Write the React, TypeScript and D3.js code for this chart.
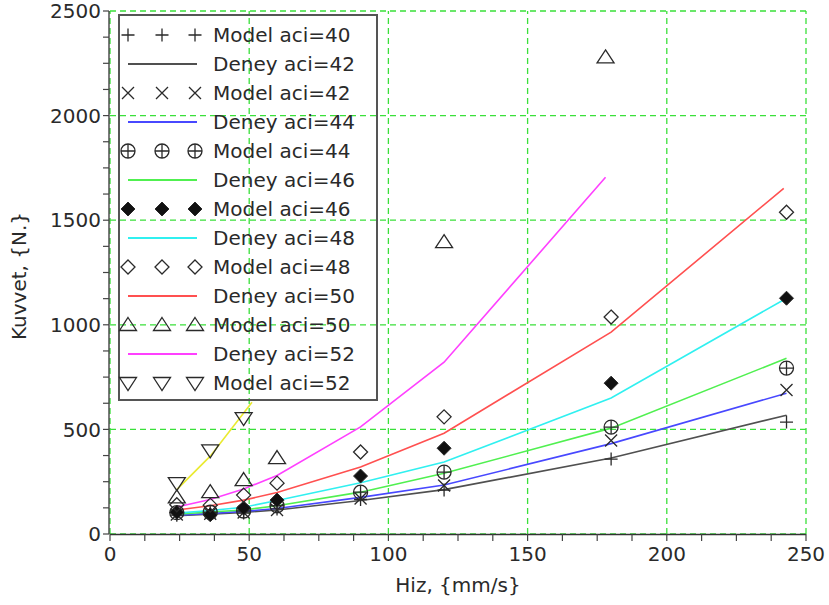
import React from "react";
import * as d3 from "d3";

// ---------- data ----------
const modelX = [24, 36, 48, 60, 90, 120, 180, 243];
const model40 = [90, 95, 100, 120, 165, 210, 358, 535];
const model42 = [93, 97, 103, 115, 170, 232, 447, 688];
const model44 = [102, 104, 110, 135, 200, 296, 511, 793];
const model46 = [104, 92, 124, 162, 277, 410, 721, 1127];
const model48 = [140, 138, 186, 243, 392, 560, 1037, 1538];
const model50X = [24, 36, 48, 60, 120, 178];
const model50 = [175, 200, 258, 363, 1395, 2278];
const model52X = [24, 36, 48];
const model52 = [243, 400, 554];

const deneyX = [24, 36, 48, 60, 90, 120, 180, 243];
const deney42 = [88, 95, 103, 115, 160, 212, 363, 568];
const deney44 = [90, 98, 108, 122, 175, 234, 432, 673];
const deney46 = [95, 105, 115, 135, 200, 290, 506, 840];
const deney48 = [100, 112, 128, 160, 245, 344, 650, 1127];
const deney50X = [24, 36, 48, 60, 90, 120, 180, 242];
const deney50 = [115, 135, 162, 198, 320, 482, 965, 1652];
const deney52X = [24, 36, 48, 60, 90, 120, 178];
const deney52 = [129, 165, 215, 280, 512, 821, 1705];
const yellowX = [24, 36, 51];
const yellowY = [212, 372, 630];

const xTicks = [0, 50, 100, 150, 200, 250];
const yTicks = [0, 500, 1000, 1500, 2000, 2500];

type MarkerKind = "plus" | "cross" | "circleplus" | "diamondFilled" | "diamond" | "triUp" | "triDown";

const lineSeries = [
  { name: "Deney aci=42", xs: deneyX, ys: deney42, color: "#505050" },
  { name: "Deney aci=44", xs: deneyX, ys: deney44, color: "#4848ff" },
  { name: "Deney aci=46", xs: deneyX, ys: deney46, color: "#50f050" },
  { name: "Deney aci=48", xs: deneyX, ys: deney48, color: "#30f0f0" },
  { name: "Deney aci=50", xs: deney50X, ys: deney50, color: "#ff5050" },
  { name: "Deney aci=52", xs: deney52X, ys: deney52, color: "#ff40ff" },
];

const markerSeries: { name: string; xs: number[]; ys: number[]; kind: MarkerKind }[] = [
  { name: "Model aci=40", xs: modelX, ys: model40, kind: "plus" },
  { name: "Model aci=42", xs: modelX, ys: model42, kind: "cross" },
  { name: "Model aci=44", xs: modelX, ys: model44, kind: "circleplus" },
  { name: "Model aci=46", xs: modelX, ys: model46, kind: "diamondFilled" },
  { name: "Model aci=48", xs: modelX, ys: model48, kind: "diamond" },
  { name: "Model aci=50", xs: model50X, ys: model50, kind: "triUp" },
  { name: "Model aci=52", xs: model52X, ys: model52, kind: "triDown" },
];

const legendOrder: { label: string; type: "m" | "l"; idx: number }[] = [
  { label: "Model aci=40", type: "m", idx: 0 },
  { label: "Deney aci=42", type: "l", idx: 0 },
  { label: "Model aci=42", type: "m", idx: 1 },
  { label: "Deney aci=44", type: "l", idx: 1 },
  { label: "Model aci=44", type: "m", idx: 2 },
  { label: "Deney aci=46", type: "l", idx: 2 },
  { label: "Model aci=46", type: "m", idx: 3 },
  { label: "Deney aci=48", type: "l", idx: 3 },
  { label: "Model aci=48", type: "m", idx: 4 },
  { label: "Deney aci=50", type: "l", idx: 4 },
  { label: "Model aci=50", type: "m", idx: 5 },
  { label: "Deney aci=52", type: "l", idx: 5 },
  { label: "Model aci=52", type: "m", idx: 6 },
];

const MK = "#2a2a2a";

function Marker({ kind, x, y }: { kind: MarkerKind; x: number; y: number }) {
  const t = `translate(${x},${y})`;
  const common = { stroke: MK, strokeWidth: 1.3, fill: "none" } as const;
  switch (kind) {
    case "plus":
      return <path transform={t} d="M-6.5,0H6.5M0,-6.5V6.5" {...common} />;
    case "cross":
      return <path transform={t} d="M-6,-6L6,6M-6,6L6,-6" {...common} />;
    case "circleplus":
      return (
        <g transform={t}>
          <circle r={7} {...common} />
          <path d="M-7,0H7M0,-7V7" {...common} />
        </g>
      );
    case "diamondFilled":
      return <path transform={t} d="M0,-7L7,0L0,7L-7,0Z" stroke={MK} strokeWidth={1} fill="#111" />;
    case "diamond":
      return <path transform={t} d="M0,-7L7,0L0,7L-7,0Z" {...common} />;
    case "triUp":
      return <path transform={t} d="M0,-7.5L8.5,5.5L-8.5,5.5Z" {...common} />;
    case "triDown":
      return <path transform={t} d="M-8.5,-5.5L8.5,-5.5L0,7.5Z" {...common} />;
  }
}

export default function App() {
  const W = 829, H = 605;
  const x = d3.scaleLinear().domain([0, 250]).range([110, 806]);
  const y = d3.scaleLinear().domain([0, 2500]).range([534, 11]);
  const line = d3.line<[number, number]>().x((d) => x(d[0])).y((d) => y(d[1]));
  const xMinor = d3.range(0, 250.01, 12.5);
  const yMinor = d3.range(0, 2500.01, 125);
  const font = "DejaVu Sans, sans-serif";
  const grid = "#3ae03a";

  const legX = 119, legY = 15, legW = 258, legH = 385;
  const rowY = (i: number) => 35 + i * 29;

  return (
    <svg width={W} height={H} style={{ position: "absolute", left: 0, top: 0, background: "#fff" }} fontFamily={font}>
      {/* grid */}
      {xTicks.map((t) => (
        <line key={"gx" + t} x1={x(t)} x2={x(t)} y1={y(0)} y2={y(2500)} stroke={grid} strokeWidth={1.3} strokeDasharray="6,4" />
      ))}
      {yTicks.map((t) => (
        <line key={"gy" + t} x1={x(0)} x2={x(250)} y1={y(t)} y2={y(t)} stroke={grid} strokeWidth={1.3} strokeDasharray="6,4" />
      ))}
      {/* axes */}
      <line x1={x(0) - 1} x2={x(0) - 1} y1={y(0)} y2={y(2500)} stroke="#333" strokeWidth={1.3} />
      <line x1={x(0)} x2={x(250)} y1={y(0) + 0.5} y2={y(0) + 0.5} stroke="#333" strokeWidth={1.3} />
      {yMinor.map((t) => (
        <line key={"ty" + t} x1={x(0) - 7} x2={x(0) - 1} y1={y(t)} y2={y(t)} stroke="#444" strokeWidth={1.2} />
      ))}
      {xMinor.map((t) => (
        <line key={"tx" + t} x1={x(t)} x2={x(t)} y1={y(0)} y2={y(0) + 7} stroke="#444" strokeWidth={1.2} />
      ))}
      {yTicks.map((t) => (
        <text key={"ly" + t} x={x(0) - 9} y={y(t)} dy="0.36em" textAnchor="end" fontSize={20} fill="#2a2a2a">
          {t}
        </text>
      ))}
      {xTicks.map((t) => (
        <text key={"lx" + t} x={x(t)} y={561} textAnchor="middle" fontSize={20} fill="#2a2a2a">
          {t}
        </text>
      ))}
      <text x={458} y={592} textAnchor="middle" fontSize={20} fill="#2a2a2a">
        Hiz, {"{mm/s}"}
      </text>
      <text transform="translate(26,276) rotate(-90)" textAnchor="middle" fontSize={20} fill="#2a2a2a">
        Kuvvet, {"{N.}"}
      </text>

      {/* lines */}
      {lineSeries.map((s) => (
        <path key={s.name} d={line(s.xs.map((v, i) => [v, s.ys[i]] as [number, number])) || ""} fill="none" stroke={s.color} strokeWidth={1.6} />
      ))}
      <path d={line(yellowX.map((v, i) => [v, yellowY[i]] as [number, number])) || ""} fill="none" stroke="#eaea30" strokeWidth={1.6} />

      {/* markers */}
      {markerSeries.map((s) => (
        <g key={s.name}>
          {s.xs.map((v, i) => (
            <Marker key={i} kind={s.kind} x={x(v)} y={y(s.ys[i])} />
          ))}
        </g>
      ))}

      {/* legend */}
      <rect x={legX} y={legY} width={legW} height={legH} fill="none" stroke="#555" strokeWidth={2} />
      {legendOrder.map((e, i) => (
        <g key={e.label + i}>
          {e.type === "m" ? (
            [128, 162, 195].map((mx) => <Marker key={mx} kind={markerSeries[e.idx].kind} x={mx} y={rowY(i)} />)
          ) : (
            <line x1={128} x2={197} y1={rowY(i)} y2={rowY(i)} stroke={lineSeries[e.idx].color} strokeWidth={1.8} />
          )}
          <text x={213} y={rowY(i)} dy="0.36em" fontSize={20} fill="#2a2a2a">
            {e.label}
          </text>
        </g>
      ))}
    </svg>
  );
}
